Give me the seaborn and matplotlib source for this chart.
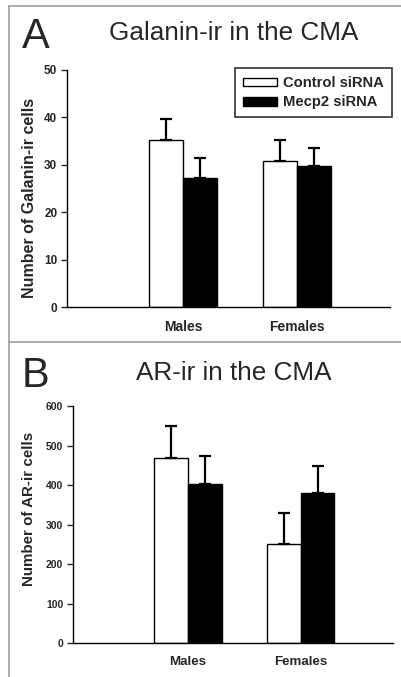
import numpy as np
import pandas as pd
import seaborn as sns
import matplotlib.pyplot as plt
from matplotlib.lines import Line2D

# values
sexes = ["Males", "Females"]
treatments = ["Control siRNA", "Mecp2 siRNA"]
galanin_mean = [35.2, 27.3, 30.8, 29.8]   # Males ctrl, Males mecp2, Females ctrl, Females mecp2
galanin_sem = [4.4, 4.1, 4.4, 3.8]
ar_mean = [468, 402, 252, 379]
ar_sem = [82, 72, 78, 70]

sns.set_style("white")
plt.rcParams["font.family"] = ["Liberation Sans", "DejaVu Sans"]

fig = plt.figure(figsize=(4.01, 6.77), dpi=100)

# panel frames
fig.add_artist(Line2D([9 / 401, 9 / 401], [0, 1 - 6 / 677], color="#a0a0a0", lw=1.2))
fig.add_artist(Line2D([9 / 401, 1], [1 - 6 / 677, 1 - 6 / 677], color="#a0a0a0", lw=1.2))
fig.add_artist(Line2D([9 / 401, 1], [1 - 342 / 677, 1 - 342 / 677], color="#a0a0a0", lw=1.2))


def panel(ax, means, sems, ylim, step, ylabel, ylab_fs, ylab_pos, tick_fs, x_fs):
    df = pd.DataFrame({
        "sex": np.repeat(sexes, 2),
        "treatment": treatments * 2,
        "value": means,
    })
    sns.barplot(data=df, x="sex", y="value", hue="treatment", order=sexes,
                hue_order=treatments, palette=["white", "black"], width=0.6,
                edgecolor="black", linewidth=1.0, errorbar=None, ax=ax)
    # upward-only error bars at bar centres
    bars = [p for p in ax.patches if p.get_height() > 0][:4]
    bars.sort(key=lambda p: p.get_x())
    for p in bars:
        h = p.get_height()
        idx = [i for i, m in enumerate(means) if abs(m - h) < 1e-9][0]
        ax.errorbar(p.get_x() + p.get_width() / 2, h, yerr=[[0], [sems[idx]]],
                    fmt="none", ecolor="black", elinewidth=1.6, capsize=4,
                    capthick=1.6)
    ax.set_xlim(-1.02, 1.82)
    ax.set_ylim(*ylim)
    ax.set_yticks(np.arange(ylim[0], ylim[1] + 1, step))
    ax.set_xlabel("")
    ax.set_ylabel(ylabel, fontsize=ylab_fs, fontweight="bold")
    ax.yaxis.set_label_coords(*ylab_pos)
    for s in ["top", "right"]:
        ax.spines[s].set_visible(False)
    for s in ["left", "bottom"]:
        ax.spines[s].set_color("black")
        ax.spines[s].set_linewidth(1.0)
    ax.tick_params(axis="y", left=True, length=4, width=1, direction="out",
                   labelsize=tick_fs, pad=3)
    ax.tick_params(axis="x", bottom=False, labelsize=x_fs, pad=6)
    for t in ax.get_yticklabels() + ax.get_xticklabels():
        t.set_fontweight("bold")


axA = fig.add_axes([67 / 401, 1 - 307 / 677, 323 / 401, 237 / 677])
panel(axA, galanin_mean, galanin_sem, (0, 50), 10, "Number of Galanin-ir cells",
      11.5, (-0.093, 0.46), 8.5, 10)
leg = axA.legend(loc="upper right", bbox_to_anchor=(1.005, 1.008),
                 borderaxespad=0, frameon=True, fancybox=False,
                 edgecolor="black", fontsize=10.6, handlelength=2.3,
                 handleheight=0.55, borderpad=0.55, labelspacing=0.35,
                 handletextpad=0.4)
leg.get_frame().set_linewidth(1.2)
for t in leg.get_texts():
    t.set_fontweight("bold")

axB = fig.add_axes([73 / 401, 1 - 643.3 / 677, 320 / 401, 237.3 / 677])
panel(axB, ar_mean, ar_sem, (0, 600), 100, "Number of AR-ir cells",
      10.9, (-0.116, 0.566), 7.5, 9.6)
axB.get_legend().remove()

# titles and panel letters
fig.text(234 / 401, 1 - 33 / 677, "Galanin-ir in the CMA", ha="center",
         va="center", fontsize=18.8)
fig.text(22 / 401, 1 - 37 / 677, "A", ha="left", va="center", fontsize=30)
fig.text(234 / 401, 1 - 373 / 677, "AR-ir in the CMA", ha="center",
         va="center", fontsize=18.8)
fig.text(22 / 401, 1 - 376 / 677, "B", ha="left", va="center", fontsize=30)

fig.savefig("out.png", dpi=100)
